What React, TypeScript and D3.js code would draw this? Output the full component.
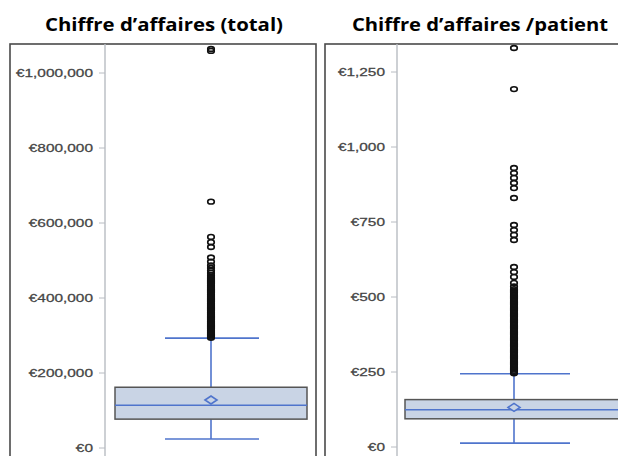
import React from "react";
import * as d3 from "d3";

// ---- data ----
const leftTitle = "Chiffre d’affaires (total)";
const rightTitle = "Chiffre d’affaires /patient";

const leftTicks = [0, 200000, 400000, 600000, 800000, 1000000];
const rightTicks = [0, 250, 500, 750, 1000, 1250];

// box stats: [lowerWhisker, q1, median, q3, upperWhisker, mean]
const leftStats = [24000, 77000, 114000, 162000, 293000, 128000];
const rightStats = [13, 94, 124, 158, 244, 132];

const leftOutliers = [
  294000, 297000, 300000, 303000, 306000, 309000, 312000, 315000, 318000, 321000,
  324000, 327000, 330000, 333000, 336000, 339000, 342000, 345000, 348000, 351000,
  354000, 357000, 360000, 363000, 366000, 369000, 372000, 375000, 378000, 381000,
  384000, 387000, 390000, 393000, 396000, 399000, 402000, 405000, 408000, 411000,
  414000, 417000, 420000, 423000, 426000, 429000, 432000, 435000, 438000, 441000,
  444000, 447000, 450000, 453000, 456000, 461000, 467000, 473000, 480000, 487000,
  497000, 508000, 536000, 549000, 563000, 657000, 1059000, 1064000,
];

const rightOutliers = [
  246, 250, 254, 258, 262, 266, 270, 274, 278, 282, 286, 290, 294, 298, 302, 306,
  310, 314, 318, 322, 326, 330, 334, 338, 342, 346, 350, 354, 358, 362, 366, 370,
  374, 378, 382, 386, 390, 394, 398, 402, 406, 410, 414, 418, 422, 426, 430, 434,
  438, 442, 446, 450, 454, 458, 462, 466, 470, 474, 478, 482, 486, 490, 494, 498,
  502, 506, 510, 514, 518, 522, 526,
  535, 547, 567, 583, 600, 690, 707, 723, 740, 830, 863, 880, 897, 913, 930,
  1193, 1330,
];

const euro = (v: number) => "€" + d3.format(",")(v);

type PanelProps = {
  title: string;
  titleX: number;
  titleLen: number;
  frameX0: number;
  frameX1: number;
  axisX: number;
  domainMax: number;
  yTop: number;
  yZero: number;
  ticks: number[];
  stats: number[];
  outliers: number[];
  boxX0: number;
  boxX1: number;
  capX0: number;
  capX1: number;
  cx: number;
};

const BOX_FILL = "#c9d4e5";
const BLUE = "#4f74cc";

function Panel(p: PanelProps) {
  const y = d3.scaleLinear().domain([0, p.domainMax]).range([p.yZero, p.yTop]);
  const [lw, q1, med, q3, uw, mean] = p.stats;
  const my = y(mean);
  return (
    <g>
      <text
        x={p.titleX}
        y={31}
        textAnchor="middle"
        fontFamily="'Open Sans', 'Liberation Sans', sans-serif"
        fontWeight="bold"
        fontSize={18}
        textLength={p.titleLen}
        lengthAdjust="spacingAndGlyphs"
        fill="#000"
      >
        {p.title}
      </text>
      <rect
        x={p.frameX0}
        y={44}
        width={p.frameX1 - p.frameX0}
        height={430}
        fill="white"
        stroke="#4a4a4a"
        strokeWidth={1.6}
      />
      <line x1={p.axisX} x2={p.axisX} y1={44} y2={460} stroke="#b8bcc2" strokeWidth={1.4} />
      {p.ticks.map((t) => (
        <g key={t}>
          <line x1={p.axisX - 6} x2={p.axisX} y1={y(t)} y2={y(t)} stroke="#b8bcc2" strokeWidth={1} />
          <text
            transform={`translate(${p.axisX - 12},${y(t) + 4}) scale(1.4,1)`}
            textAnchor="end"
            fontFamily="'Liberation Sans', Arial, sans-serif"
            fontSize={11}
            fill="#444"
            stroke="#444"
            strokeWidth={0.25}
          >
            {euro(t)}
          </text>
        </g>
      ))}
      {/* whiskers */}
      <line x1={p.cx} x2={p.cx} y1={y(uw)} y2={y(q3)} stroke={BLUE} strokeWidth={1.6} />
      <line x1={p.cx} x2={p.cx} y1={y(q1)} y2={y(lw)} stroke={BLUE} strokeWidth={1.6} />
      <line x1={p.capX0} x2={p.capX1} y1={y(uw)} y2={y(uw)} stroke={BLUE} strokeWidth={1.6} />
      <line x1={p.capX0} x2={p.capX1} y1={y(lw)} y2={y(lw)} stroke={BLUE} strokeWidth={1.6} />
      {/* box */}
      <rect
        x={p.boxX0}
        y={y(q3)}
        width={p.boxX1 - p.boxX0}
        height={y(q1) - y(q3)}
        fill={BOX_FILL}
        stroke="#555"
        strokeWidth={1.5}
      />
      <line x1={p.boxX0} x2={p.boxX1} y1={y(med)} y2={y(med)} stroke={BLUE} strokeWidth={1.6} />
      <path
        d={`M${p.cx - 6},${my} L${p.cx},${my - 4} L${p.cx + 6},${my} L${p.cx},${my + 4} Z`}
        fill={BOX_FILL}
        stroke={BLUE}
        strokeWidth={1.6}
      />
      {/* outliers */}
      {p.outliers.map((o, i) => (
        <ellipse
          key={i}
          cx={p.cx}
          cy={y(o)}
          rx={3.3}
          ry={2.4}
          fill="none"
          stroke="#111"
          strokeWidth={1.6}
        />
      ))}
    </g>
  );
}

export default function App() {
  return (
    <svg
      width={618}
      height={456}
      style={{ position: "absolute", left: 0, top: 0, background: "white" }}
    >
      <rect x={0} y={0} width={618} height={456} fill="white" />
      <Panel
        title={leftTitle}
        titleX={164}
        titleLen={238}
        frameX0={10}
        frameX1={316}
        axisX={105}
        domainMax={1000000}
        yTop={73}
        yZero={448}
        ticks={leftTicks}
        stats={leftStats}
        outliers={leftOutliers}
        boxX0={115}
        boxX1={307}
        capX0={165}
        capX1={259}
        cx={211}
      />
      <Panel
        title={rightTitle}
        titleX={480}
        titleLen={256}
        frameX0={325}
        frameX1={640}
        axisX={397}
        domainMax={1250}
        yTop={72}
        yZero={447}
        ticks={rightTicks}
        stats={rightStats}
        outliers={rightOutliers}
        boxX0={405}
        boxX1={630}
        capX0={460}
        capX1={570}
        cx={514}
      />
    </svg>
  );
}
